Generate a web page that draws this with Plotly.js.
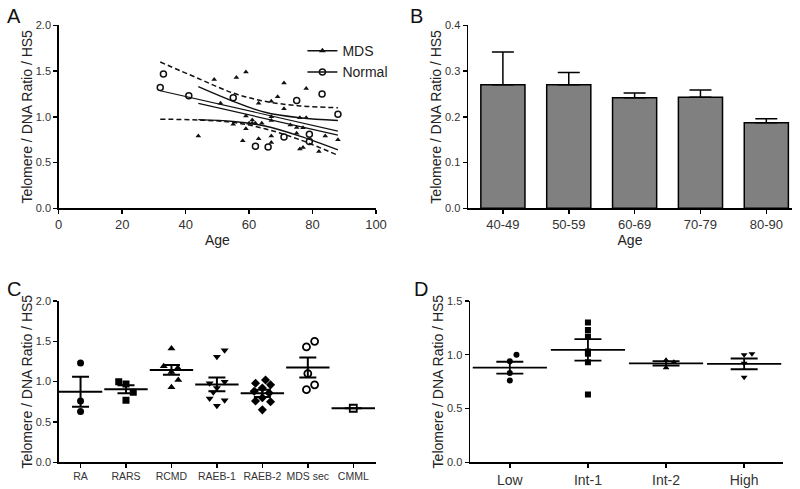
<!DOCTYPE html>
<html>
<head>
<meta charset="utf-8">
<script src="https://cdn.plot.ly/plotly-3.0.1.min.js"></script>
<style>html,body{margin:0;padding:0;background:#fff;}#chart{width:800px;height:489px;}</style>
</head>
<body>
<div id="chart"></div>
<script>
// ---------- Panel A: telomere ratio vs age ----------
const mdsAge = [44,49,51,55,56,58,59,59,59,60,61,61,62,63,63,64,67,67,67,67,67,69,71,71,73,75,75,76,76,77,77,78,78,82,84,88];
const mdsRatio = [0.79,1.41,1.15,0.92,1.43,0.74,1.49,1.01,0.87,0.93,0.965,0.93,0.93,1.15,0.76,0.93,1.17,1.00,0.96,0.79,0.72,1.22,1.37,1.09,0.91,0.885,0.82,0.99,0.65,0.88,0.665,1.31,0.99,0.62,0.79,0.75];
const normAge = [32,33,41,55,62,66,71,75,79,79,83,88];
const normRatio = [1.32,1.47,1.23,1.21,0.68,0.67,0.78,1.18,0.81,0.73,1.25,1.03];

const normFitX = [32,88];
const normFitY = [1.286,0.845];
const mdsFitX = [44,88];
const mdsFitY = [1.148,0.80];
const normBandX = [32,44,55,65,76,88];
const normBandUp = [1.60,1.42,1.26,1.17,1.12,1.10];
const normBandLo = [0.975,0.965,0.94,0.87,0.75,0.58];
const mdsBandX = [44,55,65,76,88];
const mdsBandUp = [1.33,1.17,1.05,0.99,0.96];
const mdsBandLo = [0.97,0.95,0.90,0.79,0.64];

// ---------- Panel B: bar chart by age group ----------
const ageGroups = ['40-49','50-59','60-69','70-79','80-90'];
const groupMean = [0.270,0.270,0.242,0.243,0.187];
const groupErr = [0.072,0.027,0.010,0.016,0.009];

// ---------- Panel C: WHO subtypes ----------
const whoCats = ['RA','RARS','RCMD','RAEB-1','RAEB-2','MDS sec','CMML'];
const whoValues = [
  [1.23,0.76,0.63],
  [1.00,0.97,0.87,0.77],
  [1.41,1.19,1.17,1.12,1.02,0.93],
  [1.39,1.31,1.00,0.98,0.92,0.87,0.79,0.77,0.70],
  [1.02,0.98,0.96,0.92,0.88,0.86,0.80,0.76,0.75,0.65],
  [1.50,1.43,1.10,0.96,0.90],
  [0.67]
];
const whoSpread = [
  [0,0,0],
  [-0.16,0,0.16,0],
  [0,-0.17,0.14,0,0.15,0],
  [0.17,0,0.17,-0.16,0,-0.08,-0.16,0.17,0],
  [0.07,-0.15,0.18,0,-0.18,0.15,0,-0.15,0.18,0],
  [0.15,-0.03,0,0.15,-0.03],
  [0]
];
const whoMean = [0.875,0.905,1.145,0.965,0.855,1.175,0.67];
const whoSem = [0.185,0.05,0.06,0.085,0.045,0.125,0];
const whoSymbols = ['circle','square','triangle-up','triangle-down','diamond','circle-open','square-open'];

// ---------- Panel D: IPSS risk ----------
const ipssCats = ['Low','Int-1','Int-2','High'];
const ipssValues = [
  [1.00,0.94,0.83,0.76],
  [1.30,1.23,1.17,1.03,1.01,0.93,0.63],
  [0.95,0.93,0.88],
  [1.01,1.00,0.92,0.79]
];
const ipssSpread = [
  [0.085,0,0,0],
  [0,0,0,0,0,0,0],
  [0,0.1,0],
  [0.1,0,0,0]
];
const ipssMean = [0.88,1.045,0.92,0.915];
const ipssSem = [0.055,0.10,0.02,0.05];
const ipssSymbols = ['circle','square','triangle-up','triangle-down'];

const FONT = 'Liberation Sans, Arial, Helvetica, sans-serif';
const traces = [];

// Panel A
const DASH = '5px,3px';
traces.push({x: normBandX, y: normBandUp, xaxis:'x', yaxis:'y', mode:'lines', line:{color:'#111', width:1.5, dash:DASH, shape:'spline'}, showlegend:false, hoverinfo:'skip'});
traces.push({x: normBandX, y: normBandLo, xaxis:'x', yaxis:'y', mode:'lines', line:{color:'#111', width:1.5, dash:DASH, shape:'spline'}, showlegend:false, hoverinfo:'skip'});
traces.push({x: mdsBandX, y: mdsBandUp, xaxis:'x', yaxis:'y', mode:'lines', line:{color:'#111', width:1.4, shape:'spline'}, showlegend:false, hoverinfo:'skip'});
traces.push({x: mdsBandX, y: mdsBandLo, xaxis:'x', yaxis:'y', mode:'lines', line:{color:'#111', width:1.4, shape:'spline'}, showlegend:false, hoverinfo:'skip'});
traces.push({x: normFitX, y: normFitY, xaxis:'x', yaxis:'y', mode:'lines', line:{color:'#111', width:1.2}, showlegend:false});
traces.push({x: mdsFitX, y: mdsFitY, xaxis:'x', yaxis:'y', mode:'lines', line:{color:'#111', width:1.2}, showlegend:false});
traces.push({x: mdsAge, y: mdsRatio, xaxis:'x', yaxis:'y', mode:'markers', name:'MDS', marker:{symbol:'triangle-up', size:5, color:'#111'}, showlegend:false});
traces.push({x: normAge, y: normRatio, xaxis:'x', yaxis:'y', mode:'markers', name:'Normal', marker:{symbol:'circle-open', size:6, color:'#111', line:{width:1.5}}, showlegend:false});
// legend entries
traces.push({x:[null], y:[null], xaxis:'x', yaxis:'y', mode:'lines+markers', name:'MDS', line:{color:'#111', width:1.5}, marker:{symbol:'triangle-up', size:6, color:'#111'}});
traces.push({x:[null], y:[null], xaxis:'x', yaxis:'y', mode:'lines+markers', name:'Normal', line:{color:'#111', width:1.5}, marker:{symbol:'circle-open', size:6, color:'#111', line:{width:1.5}}});

// Panel B
traces.push({type:'bar', x: ageGroups.map((_, i) => i), y: groupMean, xaxis:'x2', yaxis:'y2', width:0.67,
  marker:{color:'#808080', line:{color:'#000', width:1.5}},
  error_y:{type:'data', symmetric:false, array: groupErr, arrayminus: groupErr.map(() => 0), color:'#000', thickness:1.5, width:11},
  showlegend:false});

// Panel C
whoValues.forEach((vals, i) => {
  const open = whoSymbols[i].indexOf('open') >= 0;
  traces.push({x: vals.map((_, j) => i + whoSpread[i][j]), y: vals, xaxis:'x3', yaxis:'y3', mode:'markers',
    marker:{symbol: whoSymbols[i], size:7, color:'#000', line:{width: open ? 1.8 : 0, color:'#000'}}, showlegend:false});
});
traces.push({x: whoCats.map((_, i) => i), y: whoMean, xaxis:'x3', yaxis:'y3', mode:'markers',
  marker:{symbol:'line-ew', size:31, line:{width:2, color:'#000'}},
  error_y:{type:'data', array: whoSem, color:'#000', thickness:2, width:8.5}, showlegend:false});

// Panel D
ipssValues.forEach((vals, i) => {
  traces.push({x: vals.map((_, j) => i + ipssSpread[i][j]), y: vals, xaxis:'x4', yaxis:'y4', mode:'markers',
    marker:{symbol: ipssSymbols[i], size:6, color:'#000'}, showlegend:false});
});
traces.push({x: ipssCats.map((_, i) => i), y: ipssMean, xaxis:'x4', yaxis:'y4', mode:'markers',
  marker:{symbol:'line-ew', size:53, line:{width:1.8, color:'#000'}},
  error_y:{type:'data', array: ipssSem, color:'#000', thickness:1.8, width:13.5}, showlegend:false});

const base = {showline:true, linecolor:'#000', linewidth:1.5, ticks:'outside', ticklen:4, tickwidth:1.5, tickcolor:'#000',
  showgrid:false, zeroline:false, tickfont:{family:FONT, size:11, color:'#333'}};
const ytitle = (s) => ({text:'Telomere / DNA Ratio / HS5', font:{family:FONT, size:14, color:'#222'}, standoff:s});

const layout = {
  width:800, height:489, margin:{l:0, r:0, t:0, b:0},
  paper_bgcolor:'#fff', plot_bgcolor:'#fff',
  font:{family:FONT, color:'#222'},
  showlegend:true,
  legend:{x:0.378, y:0.928, xanchor:'left', yanchor:'top', bgcolor:'rgba(0,0,0,0)', font:{family:FONT, size:14, color:'#222'}, tracegroupgap:0, itemwidth:30},
  xaxis: Object.assign({}, base, {domain:[0.0734,0.47], anchor:'y', range:[0,100], dtick:20, tickfont:{family:FONT, size:13, color:'#333'},
    title:{text:'Age', font:{family:FONT, size:14, color:'#222'}, standoff:4}}),
  yaxis: Object.assign({}, base, {domain:[0.574,0.948], anchor:'x', range:[0,2], dtick:0.5, tickformat:'.1f', title: ytitle(0)}),
  xaxis2: Object.assign({}, base, {domain:[0.585,0.99], anchor:'y2', range:[-0.53,4.39], tickvals: ageGroups.map((_, i) => i), ticktext: ageGroups,
    tickfont:{family:FONT, size:13, color:'#333'}, title:{text:'Age', font:{family:FONT, size:14, color:'#222'}, standoff:4}}),
  yaxis2: Object.assign({}, base, {domain:[0.574,0.948], anchor:'x2', range:[0,0.4], dtick:0.1, tickformat:'.1f', title: ytitle(0)}),
  xaxis3: Object.assign({}, base, {domain:[0.0734,0.47], anchor:'y3', range:[-0.48,6.5], tickvals: whoCats.map((_, i) => i), ticktext: whoCats,
    tickfont:{family:FONT, size:10.5, color:'#333'}}),
  yaxis3: Object.assign({}, base, {domain:[0.0546,0.3845], anchor:'x3', range:[0,2], dtick:0.5, tickformat:'.1f', title: ytitle(0)}),
  xaxis4: Object.assign({}, base, {domain:[0.5875,0.979], anchor:'y4', range:[-0.51,3.5], tickvals: ipssCats.map((_, i) => i), ticktext: ipssCats,
    tickfont:{family:FONT, size:14, color:'#333'}}),
  yaxis4: Object.assign({}, base, {domain:[0.0546,0.3845], anchor:'x4', range:[0,1.5], dtick:0.5, tickformat:'.1f', title: ytitle(0)}),
  annotations: [
    {text:'A', x:5/800, y:1-3/489, xref:'paper', yref:'paper', xanchor:'left', yanchor:'top', showarrow:false, font:{family:FONT, size:20, color:'#111'}},
    {text:'B', x:408/800, y:1-3/489, xref:'paper', yref:'paper', xanchor:'left', yanchor:'top', showarrow:false, font:{family:FONT, size:20, color:'#111'}},
    {text:'C', x:5/800, y:1-276/489, xref:'paper', yref:'paper', xanchor:'left', yanchor:'top', showarrow:false, font:{family:FONT, size:20, color:'#111'}},
    {text:'D', x:412/800, y:1-276/489, xref:'paper', yref:'paper', xanchor:'left', yanchor:'top', showarrow:false, font:{family:FONT, size:20, color:'#111'}}
  ]
};

Plotly.newPlot('chart', traces, layout, {staticPlot:true, displayModeBar:false});
</script>
</body>
</html>
